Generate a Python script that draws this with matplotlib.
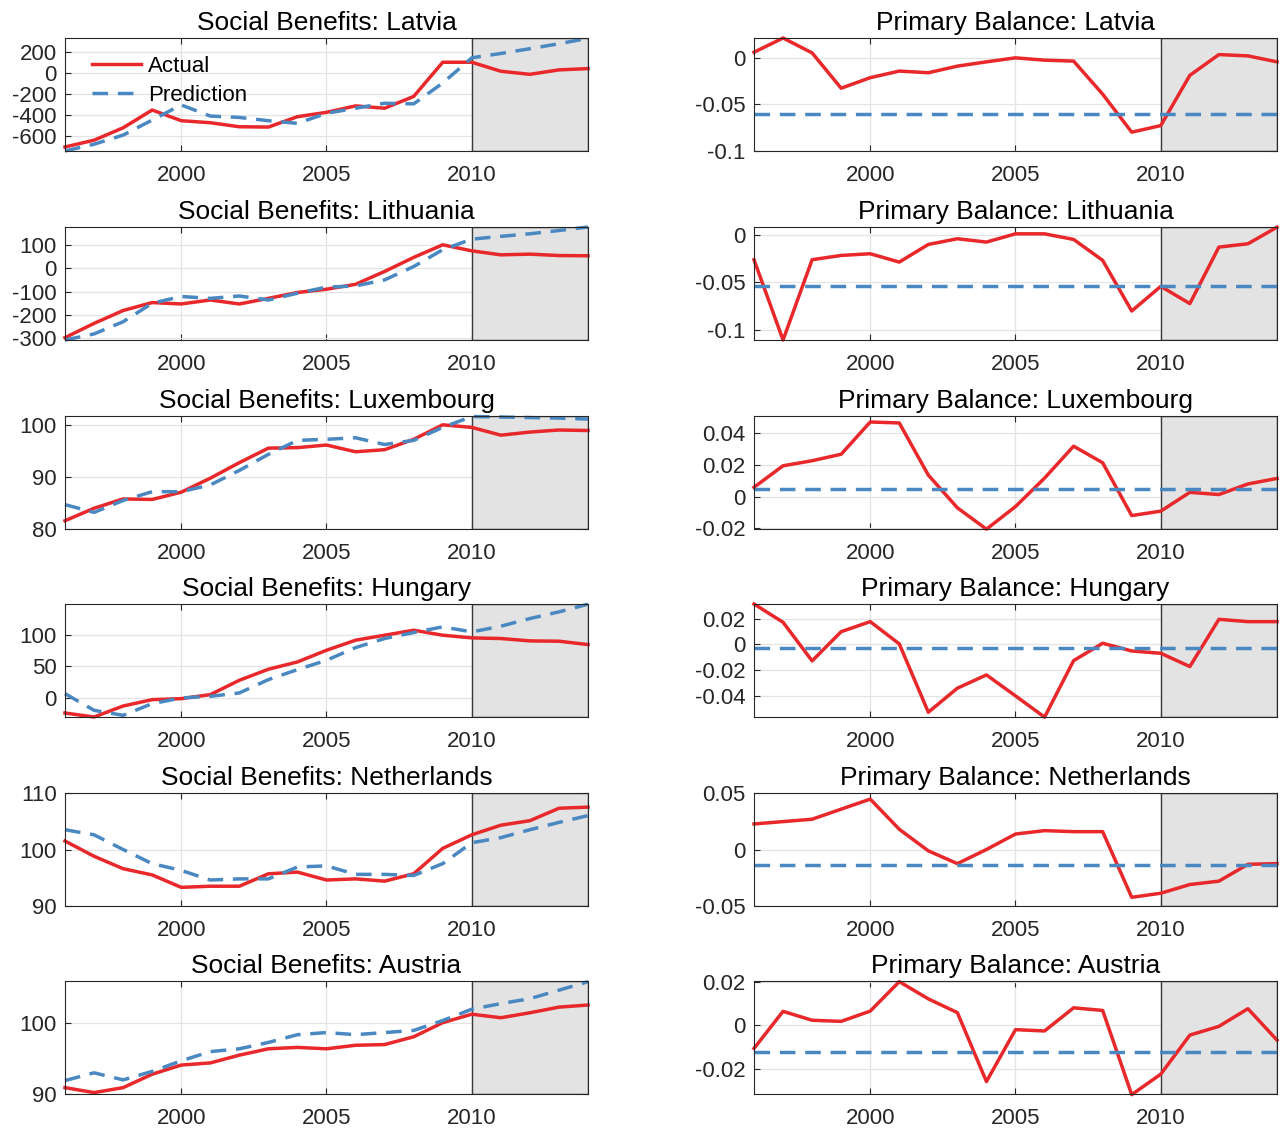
import matplotlib
matplotlib.use("Agg")
import matplotlib.pyplot as plt
from matplotlib.ticker import FixedLocator, FuncFormatter

plt.rcParams["font.family"] = ["Liberation Sans", "DejaVu Sans"]
plt.rcParams["axes.unicode_minus"] = False

years = list(range(1996, 2015))
countries = ["Latvia", "Lithuania", "Luxembourg", "Hungary", "Netherlands", "Austria"]
forecast_start = 2010

# Social benefits: actual and predicted paths
sb_actual_latvia = [-699, -635, -518, -350, -451, -470, -508, -511, -413, -372,
                    -311, -333, -222, 101, 101, 16, -13, 29, 41]
sb_pred_latvia = [-737, -673, -587, -445, -302, -407, -420, -451, -476, -381,
                  -333, -286, -292, -95, 143, 184, 229, 276, 327]
sb_actual_lithuania = [-297, -236, -181, -147, -153, -136, -153, -129, -104, -90,
                       -69, -14, 46, 100, 74, 57, 60, 54, 53]
sb_pred_lithuania = [-307, -281, -229, -150, -121, -129, -119, -136, -107, -81,
                     -76, -50, 7, 79, 124, 136, 147, 161, 176]
sb_actual_luxembourg = [81.6, 84.0, 85.8, 85.7, 87.1, 89.8, 92.8, 95.6, 95.7, 96.2,
                        94.9, 95.3, 97.3, 100.1, 99.6, 98.1, 98.7, 99.1, 99.0]
sb_pred_luxembourg = [84.7, 83.2, 85.5, 87.2, 87.2, 88.5, 91.3, 94.4, 97.1, 97.3,
                      97.6, 96.3, 97.1, 99.6, 101.7, 101.6, 101.5, 101.4, 101.2]
sb_actual_hungary = [-24.6, -31, -13.4, -3.2, -1.6, 4.8, 27.8, 45.5, 57.2, 75.9,
                     92, 100, 108, 100, 95.7, 94.7, 90.9, 90.4, 85]
sb_pred_hungary = [6.4, -20.3, -28.3, -9.6, -0.5, 2.1, 7.5, 28.9, 44.9, 59.9,
                   80.2, 94.7, 104.3, 113.4, 105.3, 114.4, 126.7, 137.4, 149.7]
sb_actual_netherlands = [101.5, 98.8, 96.6, 95.5, 93.3, 93.5, 93.5, 95.7, 96.0, 94.6,
                         94.8, 94.4, 95.7, 100.2, 102.6, 104.3, 105.1, 107.3, 107.5]
sb_pred_netherlands = [103.5, 102.6, 100.0, 97.5, 96.3, 94.6, 94.8, 94.8, 96.9, 97.1,
                       95.6, 95.6, 95.4, 97.5, 101.2, 102.1, 103.5, 104.8, 106.0]
sb_actual_austria = [90.9, 90.2, 90.9, 92.8, 94.1, 94.4, 95.5, 96.4, 96.6, 96.4,
                     96.9, 97.0, 98.1, 100.1, 101.3, 100.8, 101.5, 102.3, 102.6]
sb_pred_austria = [91.9, 93.0, 92.0, 93.2, 94.7, 96.0, 96.4, 97.3, 98.4, 98.7,
                   98.4, 98.7, 99.0, 100.4, 102.0, 102.8, 103.5, 104.7, 105.9]

# Primary balance: actual path and constant prediction
pb_actual_latvia = [0.006, 0.0213, 0.0053, -0.0326, -0.0213, -0.0142, -0.016, -0.0089,
                    -0.0043, 0.0, -0.0025, -0.0035, -0.039, -0.0798, -0.0727, -0.0188,
                    0.0035, 0.0021, -0.0043]
pb_pred_latvia = -0.060
pb_actual_lithuania = [-0.0263, -0.111, -0.0263, -0.0218, -0.020, -0.0288, -0.0102, -0.0042,
                       -0.0077, 0.001, 0.001, -0.0049, -0.027, -0.0804, -0.0544, -0.0726,
                       -0.013, -0.0095, 0.008]
pb_pred_lithuania = -0.054
pb_actual_luxembourg = [0.0059, 0.0195, 0.0227, 0.0268, 0.0472, 0.0466, 0.0136, -0.0071,
                        -0.0206, -0.0063, 0.0117, 0.0319, 0.0214, -0.012, -0.0092, 0.0027,
                        0.0013, 0.008, 0.0115]
pb_pred_luxembourg = 0.0046
pb_actual_hungary = [0.0313, 0.0171, -0.0129, 0.0098, 0.0176, 0.0003, -0.0528, -0.0341,
                     -0.0238, -0.0401, -0.0566, -0.0127, 0.0008, -0.0052, -0.007, -0.0173,
                     0.0194, 0.0176, 0.0176]
pb_pred_hungary = -0.0026
pb_actual_netherlands = [0.0226, 0.0247, 0.0268, 0.0357, 0.0446, 0.0179, -0.0012, -0.0125,
                         0.0, 0.0137, 0.0167, 0.0158, 0.0158, -0.0423, -0.0387, -0.031,
                         -0.028, -0.0131, -0.0125]
pb_pred_netherlands = -0.0134
pb_actual_austria = [-0.0106, 0.0064, 0.0023, 0.0018, 0.0065, 0.020, 0.0121, 0.0058,
                     -0.0258, -0.002, -0.0026, 0.008, 0.0068, -0.0318, -0.0224, -0.0045,
                     -0.0005, 0.0076, -0.0068]
pb_pred_austria = -0.0124

sb_actual = [sb_actual_latvia, sb_actual_lithuania, sb_actual_luxembourg,
             sb_actual_hungary, sb_actual_netherlands, sb_actual_austria]
sb_pred = [sb_pred_latvia, sb_pred_lithuania, sb_pred_luxembourg,
           sb_pred_hungary, sb_pred_netherlands, sb_pred_austria]
pb_actual = [pb_actual_latvia, pb_actual_lithuania, pb_actual_luxembourg,
             pb_actual_hungary, pb_actual_netherlands, pb_actual_austria]
pb_pred = [pb_pred_latvia, pb_pred_lithuania, pb_pred_luxembourg,
           pb_pred_hungary, pb_pred_netherlands, pb_pred_austria]

# Axis limits and tick values
x_ticks = [2000, 2005, 2010]
sb_ylims = [(-737, 330), (-307, 176), (80, 101.8), (-31, 150), (90, 110), (90, 106)]
sb_yticks = [[-600, -400, -200, 0, 200], [-300, -200, -100, 0, 100], [80, 90, 100],
             [0, 50, 100], [90, 100, 110], [90, 100]]
pb_ylims = [(-0.1, 0.0213), (-0.111, 0.0082), (-0.0205, 0.051),
            (-0.0565, 0.0313), (-0.05, 0.05), (-0.0315, 0.0203)]
pb_yticks = [[-0.1, -0.05, 0], [-0.1, -0.05, 0], [-0.02, 0, 0.02, 0.04],
             [-0.04, -0.02, 0, 0.02], [-0.05, 0, 0.05], [-0.02, 0, 0.02]]

RED = "#e8282b"
BLUE = "#4a88c2"
SHADE = "#e3e3e3"
EDGE = "#3a3a3a"
AXC = "#262626"

W, H = 1280, 1129
fig = plt.figure(figsize=(W / 100, H / 100), dpi=100)

col_left = [65, 754]
ax_w = 523
ax_h = 113
row_tops = [38, 227, 416, 604, 793, 981]

gfmt = FuncFormatter(lambda v, p: "%g" % v)


def style_axes(ax, ylim, yticks, title):
    ax.set_xlim(years[0], years[-1])
    ax.set_ylim(*ylim)
    ax.xaxis.set_major_locator(FixedLocator(x_ticks))
    ax.yaxis.set_major_locator(FixedLocator(yticks))
    ax.yaxis.set_major_formatter(gfmt)
    ax.grid(True, color="#e4e4e4", linewidth=0.9, zorder=0)
    ax.set_axisbelow(True)
    ax.tick_params(direction="in", length=4, width=0.8, color=AXC,
                   top=True, right=True, labelsize=16, labelcolor="#262626")
    ax.tick_params(axis="x", pad=10)
    ax.tick_params(axis="y", pad=6)
    for s in ax.spines.values():
        s.set_color(AXC)
        s.set_linewidth(0.8)
        s.set_zorder(5)
    ax.set_title(title, fontsize=19, pad=6, color="black")
    lo, hi = ylim
    ax.fill_between([forecast_start, years[-1]], [lo, lo], [hi, hi],
                    facecolor=SHADE, edgecolor=EDGE, linewidth=1.0, zorder=1)


for i, name in enumerate(countries):
    bottom = 1 - (row_tops[i] + ax_h) / H
    # Social benefits panel
    ax = fig.add_axes([col_left[0] / W, bottom, ax_w / W, ax_h / H])
    style_axes(ax, sb_ylims[i], sb_yticks[i], f"Social Benefits: {name}")
    ax.plot(years, sb_actual[i], color=RED, linewidth=2.5, label="Actual",
            zorder=3, clip_on=False)
    ax.plot(years, sb_pred[i], color=BLUE, linewidth=2.5, linestyle=(0, (4.5, 2.8)),
            label="Prediction", zorder=3, clip_on=False)
    if i == 0:
        ax.legend(loc="upper left", bbox_to_anchor=(0.035, 0.92), frameon=False,
                  fontsize=16, handlelength=2.2, handletextpad=0.3,
                  labelspacing=0.35, borderaxespad=0.0)

    # Primary balance panel
    ax = fig.add_axes([col_left[1] / W, bottom, ax_w / W, ax_h / H])
    style_axes(ax, pb_ylims[i], pb_yticks[i], f"Primary Balance: {name}")
    ax.plot(years, pb_actual[i], color=RED, linewidth=2.5, zorder=3, clip_on=False)
    ax.plot(years, [pb_pred[i]] * len(years), color=BLUE, linewidth=2.5,
            linestyle=(0, (4.5, 2.8)), zorder=3, clip_on=False)

fig.savefig("out.png", dpi=100, facecolor="white")
